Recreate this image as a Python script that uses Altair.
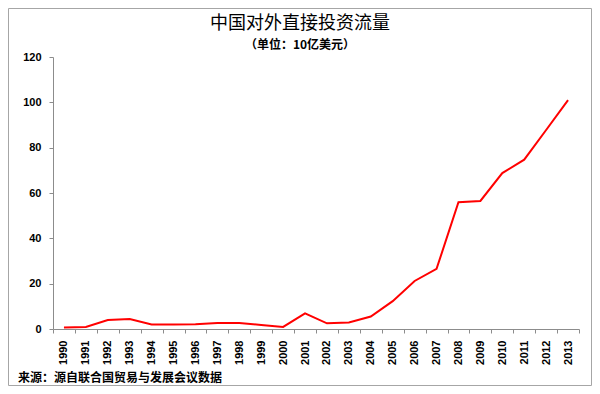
import altair as alt
import pandas as pd

years = [str(y) for y in range(1990, 2014)]
values = [0.7, 0.9, 4.0, 4.4, 2.0, 2.0, 2.1, 2.6, 2.6, 1.8, 0.9, 6.9, 2.5, 2.9, 5.5,
          12.3, 21.2, 26.5, 55.9, 56.5, 68.8, 74.7, 87.8, 101.0]
y_ticks = [0, 20, 40, 60, 80, 100, 120]

title_text = "中国对外直接投资流量"
subtitle_text = "（单位：10亿美元）"
source_text = "来源：源自联合国贸易与发展会议数据"

df = pd.DataFrame({"year": years, "value": values})

W, H = 526, 272
PAD = {"left": 45, "top": 49, "right": 13, "bottom": 57}

line = alt.Chart(df).mark_line(color="#ff0000", strokeWidth=2).encode(
    x=alt.X("year:N", sort=years, bandPosition=0.5,
            scale=alt.Scale(type="band", paddingInner=0, paddingOuter=0),
            axis=alt.Axis(title=None, labelAngle=270, tickBand="extent",
                          labelFont="Liberation Sans", labelFontWeight="bold",
                          labelFontSize=11, labelColor="#000000", labelPadding=7,
                          tickSize=4, tickColor="#8c8c8c", domainColor="#8c8c8c")),
    y=alt.Y("value:Q", scale=alt.Scale(domain=[0, 120], nice=False),
            axis=alt.Axis(title=None, values=y_ticks, grid=False,
                          labelFont="Liberation Sans", labelFontWeight="bold",
                          labelFontSize=11, labelColor="#000000", labelPadding=8,
                          tickSize=4, tickColor="#8c8c8c", domainColor="#8c8c8c")),
)

one = pd.DataFrame({"t": [title_text], "s": [subtitle_text], "src": [source_text]})

title = alt.Chart(one).mark_text(font="Noto Sans CJK SC", fontSize=18, color="#000000",
                                 align="center", baseline="middle").encode(
    x=alt.value(247), y=alt.value(-33), text="t:N")
subtitle = alt.Chart(one).mark_text(font="Noto Sans CJK SC", fontSize=12, fontWeight="bold",
                                    color="#000000", align="center", baseline="middle").encode(
    x=alt.value(247), y=alt.value(-12), text="s:N")
source = alt.Chart(one).mark_text(font="Noto Sans CJK SC", fontSize=12, fontWeight="bold",
                                  color="#000000", align="left", baseline="middle").encode(
    x=alt.value(-35), y=alt.value(321), text="src:N")
border = alt.Chart(one).mark_rect(fill=None, stroke="#a6a6a6", strokeWidth=1).encode(
    x=alt.value(-PAD["left"] + 0.5), x2=alt.value(W + PAD["right"] - 0.5),
    y=alt.value(-PAD["top"] + 0.5), y2=alt.value(H + PAD["bottom"] - 0.5))

chart = alt.layer(border, line, title, subtitle, source).properties(
    width=W, height=H, padding=PAD, autosize=alt.AutoSizeParams(type="none"),
    background="#ffffff",
).configure_view(stroke=None)

chart.save("out.html", embed_options={"renderer": "svg", "actions": False})
